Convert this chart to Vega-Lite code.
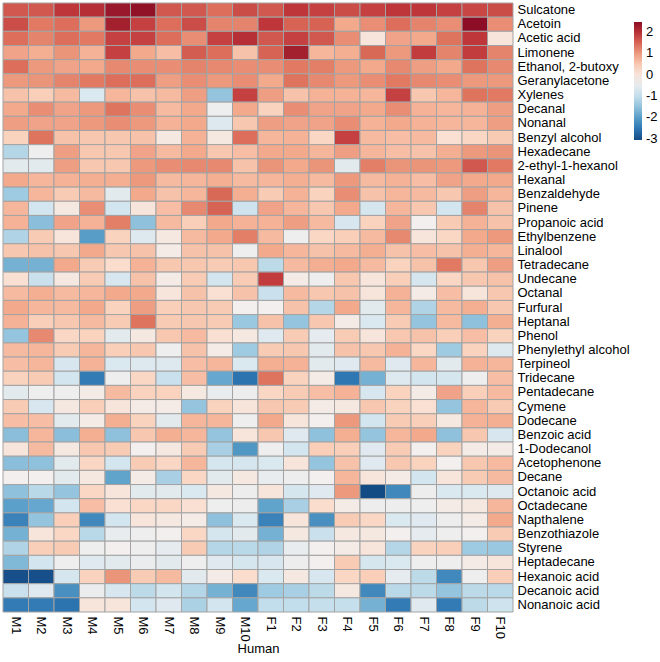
{
"$schema": "https://vega.github.io/schema/vega-lite/v6.json",
"width": 510, "height": 609,
"autosize": {"type": "none"},
"padding": {"left": 3, "top": 3, "right": 147, "bottom": 50},
"background": "white",
"config": {"view": {"stroke": null}, "font": "Liberation Sans"},
"datasets": {"cells": [
{"c":"Sulcatone","h":"M1","z":1.6},{"c":"Sulcatone","h":"M2","z":1.6},{"c":"Sulcatone","h":"M3","z":1.9},{"c":"Sulcatone","h":"M4","z":2.0},{"c":"Sulcatone","h":"M5","z":2.3},{"c":"Sulcatone","h":"M6","z":2.4},{"c":"Sulcatone","h":"M7","z":1.6},{"c":"Sulcatone","h":"M8","z":1.6},{"c":"Sulcatone","h":"M9","z":1.4},{"c":"Sulcatone","h":"M10","z":1.7},{"c":"Sulcatone","h":"F1","z":1.6},{"c":"Sulcatone","h":"F2","z":1.9},{"c":"Sulcatone","h":"F3","z":1.8},{"c":"Sulcatone","h":"F4","z":1.7},{"c":"Sulcatone","h":"F5","z":1.8},{"c":"Sulcatone","h":"F6","z":1.9},{"c":"Sulcatone","h":"F7","z":1.9},{"c":"Sulcatone","h":"F8","z":1.8},{"c":"Sulcatone","h":"F9","z":1.75},{"c":"Sulcatone","h":"F10","z":1.7},
{"c":"Acetoin","h":"M1","z":1.7},{"c":"Acetoin","h":"M2","z":1.3},{"c":"Acetoin","h":"M3","z":1.4},{"c":"Acetoin","h":"M4","z":1.0},{"c":"Acetoin","h":"M5","z":2.2},{"c":"Acetoin","h":"M6","z":1.8},{"c":"Acetoin","h":"M7","z":1.4},{"c":"Acetoin","h":"M8","z":1.7},{"c":"Acetoin","h":"M9","z":1.2},{"c":"Acetoin","h":"M10","z":1.2},{"c":"Acetoin","h":"F1","z":1.9},{"c":"Acetoin","h":"F2","z":1.5},{"c":"Acetoin","h":"F3","z":1.5},{"c":"Acetoin","h":"F4","z":0.85},{"c":"Acetoin","h":"F5","z":1.1},{"c":"Acetoin","h":"F6","z":1.4},{"c":"Acetoin","h":"F7","z":1.2},{"c":"Acetoin","h":"F8","z":1.1},{"c":"Acetoin","h":"F9","z":2.45},{"c":"Acetoin","h":"F10","z":1.1},
{"c":"Acetic acid","h":"M1","z":1.4},{"c":"Acetic acid","h":"M2","z":1.2},{"c":"Acetic acid","h":"M3","z":1.4},{"c":"Acetic acid","h":"M4","z":1.3},{"c":"Acetic acid","h":"M5","z":1.8},{"c":"Acetic acid","h":"M6","z":1.8},{"c":"Acetic acid","h":"M7","z":1.4},{"c":"Acetic acid","h":"M8","z":1.1},{"c":"Acetic acid","h":"M9","z":1.8},{"c":"Acetic acid","h":"M10","z":2.0},{"c":"Acetic acid","h":"F1","z":1.6},{"c":"Acetic acid","h":"F2","z":1.8},{"c":"Acetic acid","h":"F3","z":1.6},{"c":"Acetic acid","h":"F4","z":1.1},{"c":"Acetic acid","h":"F5","z":0.0},{"c":"Acetic acid","h":"F6","z":0.9},{"c":"Acetic acid","h":"F7","z":0.85},{"c":"Acetic acid","h":"F8","z":1.35},{"c":"Acetic acid","h":"F9","z":1.9},{"c":"Acetic acid","h":"F10","z":0.0},
{"c":"Limonene","h":"M1","z":0.9},{"c":"Limonene","h":"M2","z":0.8},{"c":"Limonene","h":"M3","z":1.05},{"c":"Limonene","h":"M4","z":0.75},{"c":"Limonene","h":"M5","z":1.8},{"c":"Limonene","h":"M6","z":0.85},{"c":"Limonene","h":"M7","z":0.6},{"c":"Limonene","h":"M8","z":1.55},{"c":"Limonene","h":"M9","z":1.4},{"c":"Limonene","h":"M10","z":0.55},{"c":"Limonene","h":"F1","z":1.5},{"c":"Limonene","h":"F2","z":2.2},{"c":"Limonene","h":"F3","z":0.7},{"c":"Limonene","h":"F4","z":0.8},{"c":"Limonene","h":"F5","z":1.45},{"c":"Limonene","h":"F6","z":1.0},{"c":"Limonene","h":"F7","z":1.85},{"c":"Limonene","h":"F8","z":1.2},{"c":"Limonene","h":"F9","z":1.85},{"c":"Limonene","h":"F10","z":1.2},
{"c":"Ethanol, 2-butoxy","h":"M1","z":1.4},{"c":"Ethanol, 2-butoxy","h":"M2","z":1.0},{"c":"Ethanol, 2-butoxy","h":"M3","z":0.9},{"c":"Ethanol, 2-butoxy","h":"M4","z":0.85},{"c":"Ethanol, 2-butoxy","h":"M5","z":1.15},{"c":"Ethanol, 2-butoxy","h":"M6","z":1.1},{"c":"Ethanol, 2-butoxy","h":"M7","z":1.1},{"c":"Ethanol, 2-butoxy","h":"M8","z":1.2},{"c":"Ethanol, 2-butoxy","h":"M9","z":1.15},{"c":"Ethanol, 2-butoxy","h":"M10","z":1.1},{"c":"Ethanol, 2-butoxy","h":"F1","z":1.1},{"c":"Ethanol, 2-butoxy","h":"F2","z":1.3},{"c":"Ethanol, 2-butoxy","h":"F3","z":1.25},{"c":"Ethanol, 2-butoxy","h":"F4","z":1.0},{"c":"Ethanol, 2-butoxy","h":"F5","z":0.85},{"c":"Ethanol, 2-butoxy","h":"F6","z":1.15},{"c":"Ethanol, 2-butoxy","h":"F7","z":0.95},{"c":"Ethanol, 2-butoxy","h":"F8","z":0.85},{"c":"Ethanol, 2-butoxy","h":"F9","z":1.35},{"c":"Ethanol, 2-butoxy","h":"F10","z":1.15},
{"c":"Geranylacetone","h":"M1","z":1.0},{"c":"Geranylacetone","h":"M2","z":1.05},{"c":"Geranylacetone","h":"M3","z":1.2},{"c":"Geranylacetone","h":"M4","z":1.3},{"c":"Geranylacetone","h":"M5","z":1.4},{"c":"Geranylacetone","h":"M6","z":1.4},{"c":"Geranylacetone","h":"M7","z":0.95},{"c":"Geranylacetone","h":"M8","z":1.1},{"c":"Geranylacetone","h":"M9","z":1.0},{"c":"Geranylacetone","h":"M10","z":1.1},{"c":"Geranylacetone","h":"F1","z":0.85},{"c":"Geranylacetone","h":"F2","z":1.35},{"c":"Geranylacetone","h":"F3","z":1.15},{"c":"Geranylacetone","h":"F4","z":1.0},{"c":"Geranylacetone","h":"F5","z":1.1},{"c":"Geranylacetone","h":"F6","z":1.3},{"c":"Geranylacetone","h":"F7","z":1.15},{"c":"Geranylacetone","h":"F8","z":1.1},{"c":"Geranylacetone","h":"F9","z":1.0},{"c":"Geranylacetone","h":"F10","z":1.0},
{"c":"Xylenes","h":"M1","z":0.55},{"c":"Xylenes","h":"M2","z":0.4},{"c":"Xylenes","h":"M3","z":0.65},{"c":"Xylenes","h":"M4","z":-0.71},{"c":"Xylenes","h":"M5","z":0.7},{"c":"Xylenes","h":"M6","z":0.55},{"c":"Xylenes","h":"M7","z":0.65},{"c":"Xylenes","h":"M8","z":0.95},{"c":"Xylenes","h":"M9","z":-1.47},{"c":"Xylenes","h":"M10","z":1.8},{"c":"Xylenes","h":"F1","z":0.95},{"c":"Xylenes","h":"F2","z":0.55},{"c":"Xylenes","h":"F3","z":0.75},{"c":"Xylenes","h":"F4","z":0.75},{"c":"Xylenes","h":"F5","z":0.7},{"c":"Xylenes","h":"F6","z":1.8},{"c":"Xylenes","h":"F7","z":0.5},{"c":"Xylenes","h":"F8","z":0.7},{"c":"Xylenes","h":"F9","z":1.35},{"c":"Xylenes","h":"F10","z":1.3},
{"c":"Decanal","h":"M1","z":0.85},{"c":"Decanal","h":"M2","z":1.1},{"c":"Decanal","h":"M3","z":0.9},{"c":"Decanal","h":"M4","z":1.0},{"c":"Decanal","h":"M5","z":1.35},{"c":"Decanal","h":"M6","z":1.1},{"c":"Decanal","h":"M7","z":0.65},{"c":"Decanal","h":"M8","z":0.85},{"c":"Decanal","h":"M9","z":-0.35},{"c":"Decanal","h":"M10","z":0.85},{"c":"Decanal","h":"F1","z":0.35},{"c":"Decanal","h":"F2","z":1.1},{"c":"Decanal","h":"F3","z":0.9},{"c":"Decanal","h":"F4","z":0.9},{"c":"Decanal","h":"F5","z":0.85},{"c":"Decanal","h":"F6","z":1.1},{"c":"Decanal","h":"F7","z":0.75},{"c":"Decanal","h":"F8","z":0.7},{"c":"Decanal","h":"F9","z":0.75},{"c":"Decanal","h":"F10","z":0.95},
{"c":"Nonanal","h":"M1","z":0.95},{"c":"Nonanal","h":"M2","z":0.9},{"c":"Nonanal","h":"M3","z":0.9},{"c":"Nonanal","h":"M4","z":1.0},{"c":"Nonanal","h":"M5","z":1.1},{"c":"Nonanal","h":"M6","z":1.0},{"c":"Nonanal","h":"M7","z":0.75},{"c":"Nonanal","h":"M8","z":0.85},{"c":"Nonanal","h":"M9","z":-0.66},{"c":"Nonanal","h":"M10","z":0.5},{"c":"Nonanal","h":"F1","z":0.95},{"c":"Nonanal","h":"F2","z":0.9},{"c":"Nonanal","h":"F3","z":0.9},{"c":"Nonanal","h":"F4","z":1.1},{"c":"Nonanal","h":"F5","z":0.75},{"c":"Nonanal","h":"F6","z":0.85},{"c":"Nonanal","h":"F7","z":0.75},{"c":"Nonanal","h":"F8","z":0.7},{"c":"Nonanal","h":"F9","z":0.7},{"c":"Nonanal","h":"F10","z":0.95},
{"c":"Benzyl alcohol","h":"M1","z":0.35},{"c":"Benzyl alcohol","h":"M2","z":1.35},{"c":"Benzyl alcohol","h":"M3","z":0.55},{"c":"Benzyl alcohol","h":"M4","z":0.5},{"c":"Benzyl alcohol","h":"M5","z":0.5},{"c":"Benzyl alcohol","h":"M6","z":0.55},{"c":"Benzyl alcohol","h":"M7","z":-0.1},{"c":"Benzyl alcohol","h":"M8","z":0.75},{"c":"Benzyl alcohol","h":"M9","z":-0.1},{"c":"Benzyl alcohol","h":"M10","z":1.4},{"c":"Benzyl alcohol","h":"F1","z":0.7},{"c":"Benzyl alcohol","h":"F2","z":0.75},{"c":"Benzyl alcohol","h":"F3","z":0.3},{"c":"Benzyl alcohol","h":"F4","z":1.8},{"c":"Benzyl alcohol","h":"F5","z":0.65},{"c":"Benzyl alcohol","h":"F6","z":0.6},{"c":"Benzyl alcohol","h":"F7","z":0.65},{"c":"Benzyl alcohol","h":"F8","z":0.1},{"c":"Benzyl alcohol","h":"F9","z":0.3},{"c":"Benzyl alcohol","h":"F10","z":0.45},
{"c":"Hexadecane","h":"M1","z":-1.16},{"c":"Hexadecane","h":"M2","z":-0.35},{"c":"Hexadecane","h":"M3","z":0.95},{"c":"Hexadecane","h":"M4","z":0.5},{"c":"Hexadecane","h":"M5","z":0.5},{"c":"Hexadecane","h":"M6","z":0.9},{"c":"Hexadecane","h":"M7","z":0.65},{"c":"Hexadecane","h":"M8","z":0.85},{"c":"Hexadecane","h":"M9","z":0.5},{"c":"Hexadecane","h":"M10","z":0.6},{"c":"Hexadecane","h":"F1","z":0.85},{"c":"Hexadecane","h":"F2","z":0.85},{"c":"Hexadecane","h":"F3","z":0.7},{"c":"Hexadecane","h":"F4","z":0.95},{"c":"Hexadecane","h":"F5","z":0.7},{"c":"Hexadecane","h":"F6","z":0.6},{"c":"Hexadecane","h":"F7","z":0.55},{"c":"Hexadecane","h":"F8","z":0.8},{"c":"Hexadecane","h":"F9","z":1.0},{"c":"Hexadecane","h":"F10","z":1.05},
{"c":"2-ethyl-1-hexanol","h":"M1","z":-0.57},{"c":"2-ethyl-1-hexanol","h":"M2","z":-0.57},{"c":"2-ethyl-1-hexanol","h":"M3","z":0.95},{"c":"2-ethyl-1-hexanol","h":"M4","z":0.5},{"c":"2-ethyl-1-hexanol","h":"M5","z":0.5},{"c":"2-ethyl-1-hexanol","h":"M6","z":1.0},{"c":"2-ethyl-1-hexanol","h":"M7","z":1.1},{"c":"2-ethyl-1-hexanol","h":"M8","z":1.15},{"c":"2-ethyl-1-hexanol","h":"M9","z":1.15},{"c":"2-ethyl-1-hexanol","h":"M10","z":0.55},{"c":"2-ethyl-1-hexanol","h":"F1","z":1.05},{"c":"2-ethyl-1-hexanol","h":"F2","z":0.85},{"c":"2-ethyl-1-hexanol","h":"F3","z":1.05},{"c":"2-ethyl-1-hexanol","h":"F4","z":-0.57},{"c":"2-ethyl-1-hexanol","h":"F5","z":1.25},{"c":"2-ethyl-1-hexanol","h":"F6","z":1.05},{"c":"2-ethyl-1-hexanol","h":"F7","z":1.05},{"c":"2-ethyl-1-hexanol","h":"F8","z":1.0},{"c":"2-ethyl-1-hexanol","h":"F9","z":1.6},{"c":"2-ethyl-1-hexanol","h":"F10","z":1.3},
{"c":"Hexanal","h":"M1","z":0.85},{"c":"Hexanal","h":"M2","z":0.7},{"c":"Hexanal","h":"M3","z":0.75},{"c":"Hexanal","h":"M4","z":0.8},{"c":"Hexanal","h":"M5","z":0.8},{"c":"Hexanal","h":"M6","z":1.0},{"c":"Hexanal","h":"M7","z":0.65},{"c":"Hexanal","h":"M8","z":0.7},{"c":"Hexanal","h":"M9","z":0.8},{"c":"Hexanal","h":"M10","z":0.65},{"c":"Hexanal","h":"F1","z":0.7},{"c":"Hexanal","h":"F2","z":0.8},{"c":"Hexanal","h":"F3","z":0.65},{"c":"Hexanal","h":"F4","z":1.0},{"c":"Hexanal","h":"F5","z":0.65},{"c":"Hexanal","h":"F6","z":0.75},{"c":"Hexanal","h":"F7","z":0.6},{"c":"Hexanal","h":"F8","z":0.9},{"c":"Hexanal","h":"F9","z":0.85},{"c":"Hexanal","h":"F10","z":0.85},
{"c":"Benzaldehyde","h":"M1","z":-1.38},{"c":"Benzaldehyde","h":"M2","z":0.7},{"c":"Benzaldehyde","h":"M3","z":0.45},{"c":"Benzaldehyde","h":"M4","z":0.65},{"c":"Benzaldehyde","h":"M5","z":-0.57},{"c":"Benzaldehyde","h":"M6","z":0.85},{"c":"Benzaldehyde","h":"M7","z":0.55},{"c":"Benzaldehyde","h":"M8","z":0.7},{"c":"Benzaldehyde","h":"M9","z":1.45},{"c":"Benzaldehyde","h":"M10","z":0.8},{"c":"Benzaldehyde","h":"F1","z":0.45},{"c":"Benzaldehyde","h":"F2","z":0.75},{"c":"Benzaldehyde","h":"F3","z":0.35},{"c":"Benzaldehyde","h":"F4","z":1.1},{"c":"Benzaldehyde","h":"F5","z":0.55},{"c":"Benzaldehyde","h":"F6","z":0.7},{"c":"Benzaldehyde","h":"F7","z":0.65},{"c":"Benzaldehyde","h":"F8","z":0.5},{"c":"Benzaldehyde","h":"F9","z":0.95},{"c":"Benzaldehyde","h":"F10","z":0.7},
{"c":"Pinene","h":"M1","z":0.7},{"c":"Pinene","h":"M2","z":-0.84},{"c":"Pinene","h":"M3","z":-0.1},{"c":"Pinene","h":"M4","z":1.1},{"c":"Pinene","h":"M5","z":-0.84},{"c":"Pinene","h":"M6","z":0.0},{"c":"Pinene","h":"M7","z":0.6},{"c":"Pinene","h":"M8","z":1.15},{"c":"Pinene","h":"M9","z":1.5},{"c":"Pinene","h":"M10","z":-0.89},{"c":"Pinene","h":"F1","z":0.9},{"c":"Pinene","h":"F2","z":0.7},{"c":"Pinene","h":"F3","z":0.5},{"c":"Pinene","h":"F4","z":0.85},{"c":"Pinene","h":"F5","z":-0.8},{"c":"Pinene","h":"F6","z":0.7},{"c":"Pinene","h":"F7","z":0.5},{"c":"Pinene","h":"F8","z":-0.84},{"c":"Pinene","h":"F9","z":1.2},{"c":"Pinene","h":"F10","z":0.55},
{"c":"Propanoic acid","h":"M1","z":0.75},{"c":"Propanoic acid","h":"M2","z":-1.56},{"c":"Propanoic acid","h":"M3","z":0.9},{"c":"Propanoic acid","h":"M4","z":0.75},{"c":"Propanoic acid","h":"M5","z":1.25},{"c":"Propanoic acid","h":"M6","z":-1.52},{"c":"Propanoic acid","h":"M7","z":0.65},{"c":"Propanoic acid","h":"M8","z":0.4},{"c":"Propanoic acid","h":"M9","z":0.85},{"c":"Propanoic acid","h":"M10","z":0.75},{"c":"Propanoic acid","h":"F1","z":0.75},{"c":"Propanoic acid","h":"F2","z":0.95},{"c":"Propanoic acid","h":"F3","z":0.65},{"c":"Propanoic acid","h":"F4","z":-0.75},{"c":"Propanoic acid","h":"F5","z":0.35},{"c":"Propanoic acid","h":"F6","z":0.9},{"c":"Propanoic acid","h":"F7","z":-0.3},{"c":"Propanoic acid","h":"F8","z":0.45},{"c":"Propanoic acid","h":"F9","z":0.75},{"c":"Propanoic acid","h":"F10","z":0.55},
{"c":"Ethylbenzene","h":"M1","z":-1.2},{"c":"Ethylbenzene","h":"M2","z":0.45},{"c":"Ethylbenzene","h":"M3","z":0.0},{"c":"Ethylbenzene","h":"M4","z":-2.01},{"c":"Ethylbenzene","h":"M5","z":0.35},{"c":"Ethylbenzene","h":"M6","z":-0.66},{"c":"Ethylbenzene","h":"M7","z":-0.1},{"c":"Ethylbenzene","h":"M8","z":0.65},{"c":"Ethylbenzene","h":"M9","z":0.85},{"c":"Ethylbenzene","h":"M10","z":1.25},{"c":"Ethylbenzene","h":"F1","z":0.65},{"c":"Ethylbenzene","h":"F2","z":-0.35},{"c":"Ethylbenzene","h":"F3","z":0.3},{"c":"Ethylbenzene","h":"F4","z":0.4},{"c":"Ethylbenzene","h":"F5","z":0.65},{"c":"Ethylbenzene","h":"F6","z":1.15},{"c":"Ethylbenzene","h":"F7","z":0.0},{"c":"Ethylbenzene","h":"F8","z":0.3},{"c":"Ethylbenzene","h":"F9","z":0.85},{"c":"Ethylbenzene","h":"F10","z":1.0},
{"c":"Linalool","h":"M1","z":0.5},{"c":"Linalool","h":"M2","z":0.55},{"c":"Linalool","h":"M3","z":0.5},{"c":"Linalool","h":"M4","z":0.85},{"c":"Linalool","h":"M5","z":0.5},{"c":"Linalool","h":"M6","z":0.55},{"c":"Linalool","h":"M7","z":-0.2},{"c":"Linalool","h":"M8","z":0.55},{"c":"Linalool","h":"M9","z":0.55},{"c":"Linalool","h":"M10","z":-0.35},{"c":"Linalool","h":"F1","z":0.85},{"c":"Linalool","h":"F2","z":0.7},{"c":"Linalool","h":"F3","z":0.55},{"c":"Linalool","h":"F4","z":0.65},{"c":"Linalool","h":"F5","z":0.8},{"c":"Linalool","h":"F6","z":0.55},{"c":"Linalool","h":"F7","z":0.6},{"c":"Linalool","h":"F8","z":0.55},{"c":"Linalool","h":"F9","z":0.8},{"c":"Linalool","h":"F10","z":0.7},
{"c":"Tetradecane","h":"M1","z":-1.74},{"c":"Tetradecane","h":"M2","z":-1.74},{"c":"Tetradecane","h":"M3","z":0.85},{"c":"Tetradecane","h":"M4","z":0.45},{"c":"Tetradecane","h":"M5","z":0.2},{"c":"Tetradecane","h":"M6","z":0.75},{"c":"Tetradecane","h":"M7","z":0.5},{"c":"Tetradecane","h":"M8","z":0.5},{"c":"Tetradecane","h":"M9","z":0.45},{"c":"Tetradecane","h":"M10","z":0.5},{"c":"Tetradecane","h":"F1","z":-1.07},{"c":"Tetradecane","h":"F2","z":0.65},{"c":"Tetradecane","h":"F3","z":0.8},{"c":"Tetradecane","h":"F4","z":0.85},{"c":"Tetradecane","h":"F5","z":0.65},{"c":"Tetradecane","h":"F6","z":0.35},{"c":"Tetradecane","h":"F7","z":0.55},{"c":"Tetradecane","h":"F8","z":1.3},{"c":"Tetradecane","h":"F9","z":0.5},{"c":"Tetradecane","h":"F10","z":0.95},
{"c":"Undecane","h":"M1","z":0.1},{"c":"Undecane","h":"M2","z":-0.93},{"c":"Undecane","h":"M3","z":-0.1},{"c":"Undecane","h":"M4","z":0.45},{"c":"Undecane","h":"M5","z":-0.75},{"c":"Undecane","h":"M6","z":0.55},{"c":"Undecane","h":"M7","z":-0.2},{"c":"Undecane","h":"M8","z":0.45},{"c":"Undecane","h":"M9","z":-0.84},{"c":"Undecane","h":"M10","z":0.45},{"c":"Undecane","h":"F1","z":1.85},{"c":"Undecane","h":"F2","z":-0.2},{"c":"Undecane","h":"F3","z":-0.35},{"c":"Undecane","h":"F4","z":0.5},{"c":"Undecane","h":"F5","z":0.0},{"c":"Undecane","h":"F6","z":0.4},{"c":"Undecane","h":"F7","z":-0.8},{"c":"Undecane","h":"F8","z":0.3},{"c":"Undecane","h":"F9","z":0.5},{"c":"Undecane","h":"F10","z":0.55},
{"c":"Octanal","h":"M1","z":0.65},{"c":"Octanal","h":"M2","z":0.8},{"c":"Octanal","h":"M3","z":0.65},{"c":"Octanal","h":"M4","z":0.7},{"c":"Octanal","h":"M5","z":0.85},{"c":"Octanal","h":"M6","z":0.85},{"c":"Octanal","h":"M7","z":0.0},{"c":"Octanal","h":"M8","z":0.55},{"c":"Octanal","h":"M9","z":0.1},{"c":"Octanal","h":"M10","z":0.55},{"c":"Octanal","h":"F1","z":-0.93},{"c":"Octanal","h":"F2","z":0.65},{"c":"Octanal","h":"F3","z":0.5},{"c":"Octanal","h":"F4","z":0.55},{"c":"Octanal","h":"F5","z":0.0},{"c":"Octanal","h":"F6","z":0.75},{"c":"Octanal","h":"F7","z":-0.2},{"c":"Octanal","h":"F8","z":0.6},{"c":"Octanal","h":"F9","z":0.0},{"c":"Octanal","h":"F10","z":0.5},
{"c":"Furfural","h":"M1","z":0.85},{"c":"Furfural","h":"M2","z":0.7},{"c":"Furfural","h":"M3","z":0.65},{"c":"Furfural","h":"M4","z":0.85},{"c":"Furfural","h":"M5","z":0.35},{"c":"Furfural","h":"M6","z":0.95},{"c":"Furfural","h":"M7","z":0.4},{"c":"Furfural","h":"M8","z":0.5},{"c":"Furfural","h":"M9","z":0.45},{"c":"Furfural","h":"M10","z":-0.3},{"c":"Furfural","h":"F1","z":-0.3},{"c":"Furfural","h":"F2","z":0.55},{"c":"Furfural","h":"F3","z":-1.16},{"c":"Furfural","h":"F4","z":0.85},{"c":"Furfural","h":"F5","z":-0.57},{"c":"Furfural","h":"F6","z":0.7},{"c":"Furfural","h":"F7","z":-1.2},{"c":"Furfural","h":"F8","z":0.65},{"c":"Furfural","h":"F9","z":0.8},{"c":"Furfural","h":"F10","z":0.5},
{"c":"Heptanal","h":"M1","z":0.75},{"c":"Heptanal","h":"M2","z":0.4},{"c":"Heptanal","h":"M3","z":0.5},{"c":"Heptanal","h":"M4","z":0.65},{"c":"Heptanal","h":"M5","z":0.45},{"c":"Heptanal","h":"M6","z":1.35},{"c":"Heptanal","h":"M7","z":0.45},{"c":"Heptanal","h":"M8","z":0.5},{"c":"Heptanal","h":"M9","z":0.45},{"c":"Heptanal","h":"M10","z":-1.43},{"c":"Heptanal","h":"F1","z":0.55},{"c":"Heptanal","h":"F2","z":-1.47},{"c":"Heptanal","h":"F3","z":0.5},{"c":"Heptanal","h":"F4","z":-0.2},{"c":"Heptanal","h":"F5","z":-0.71},{"c":"Heptanal","h":"F6","z":0.45},{"c":"Heptanal","h":"F7","z":-1.47},{"c":"Heptanal","h":"F8","z":0.65},{"c":"Heptanal","h":"F9","z":-1.52},{"c":"Heptanal","h":"F10","z":0.8},
{"c":"Phenol","h":"M1","z":-1.47},{"c":"Phenol","h":"M2","z":1.15},{"c":"Phenol","h":"M3","z":0.3},{"c":"Phenol","h":"M4","z":0.35},{"c":"Phenol","h":"M5","z":-0.57},{"c":"Phenol","h":"M6","z":-0.1},{"c":"Phenol","h":"M7","z":0.5},{"c":"Phenol","h":"M8","z":0.65},{"c":"Phenol","h":"M9","z":0.1},{"c":"Phenol","h":"M10","z":-0.1},{"c":"Phenol","h":"F1","z":-0.62},{"c":"Phenol","h":"F2","z":0.45},{"c":"Phenol","h":"F3","z":-0.53},{"c":"Phenol","h":"F4","z":0.45},{"c":"Phenol","h":"F5","z":0.0},{"c":"Phenol","h":"F6","z":0.5},{"c":"Phenol","h":"F7","z":0.55},{"c":"Phenol","h":"F8","z":0.4},{"c":"Phenol","h":"F9","z":0.6},{"c":"Phenol","h":"F10","z":0.35},
{"c":"Phenylethyl alcohol","h":"M1","z":0.65},{"c":"Phenylethyl alcohol","h":"M2","z":0.7},{"c":"Phenylethyl alcohol","h":"M3","z":0.45},{"c":"Phenylethyl alcohol","h":"M4","z":0.7},{"c":"Phenylethyl alcohol","h":"M5","z":0.4},{"c":"Phenylethyl alcohol","h":"M6","z":0.5},{"c":"Phenylethyl alcohol","h":"M7","z":-0.35},{"c":"Phenylethyl alcohol","h":"M8","z":0.55},{"c":"Phenylethyl alcohol","h":"M9","z":-0.2},{"c":"Phenylethyl alcohol","h":"M10","z":-1.38},{"c":"Phenylethyl alcohol","h":"F1","z":0.45},{"c":"Phenylethyl alcohol","h":"F2","z":0.5},{"c":"Phenylethyl alcohol","h":"F3","z":-0.57},{"c":"Phenylethyl alcohol","h":"F4","z":0.55},{"c":"Phenylethyl alcohol","h":"F5","z":0.5},{"c":"Phenylethyl alcohol","h":"F6","z":0.75},{"c":"Phenylethyl alcohol","h":"F7","z":0.3},{"c":"Phenylethyl alcohol","h":"F8","z":-1.38},{"c":"Phenylethyl alcohol","h":"F9","z":0.35},{"c":"Phenylethyl alcohol","h":"F10","z":-0.66},
{"c":"Terpineol","h":"M1","z":0.6},{"c":"Terpineol","h":"M2","z":0.7},{"c":"Terpineol","h":"M3","z":-0.75},{"c":"Terpineol","h":"M4","z":0.75},{"c":"Terpineol","h":"M5","z":-0.71},{"c":"Terpineol","h":"M6","z":-0.66},{"c":"Terpineol","h":"M7","z":-0.66},{"c":"Terpineol","h":"M8","z":0.6},{"c":"Terpineol","h":"M9","z":0.7},{"c":"Terpineol","h":"M10","z":-0.71},{"c":"Terpineol","h":"F1","z":0.8},{"c":"Terpineol","h":"F2","z":0.75},{"c":"Terpineol","h":"F3","z":-0.57},{"c":"Terpineol","h":"F4","z":-0.62},{"c":"Terpineol","h":"F5","z":0.65},{"c":"Terpineol","h":"F6","z":-0.62},{"c":"Terpineol","h":"F7","z":0.7},{"c":"Terpineol","h":"F8","z":-0.57},{"c":"Terpineol","h":"F9","z":0.75},{"c":"Terpineol","h":"F10","z":0.7},
{"c":"Tridecane","h":"M1","z":0.35},{"c":"Tridecane","h":"M2","z":0.45},{"c":"Tridecane","h":"M3","z":-0.84},{"c":"Tridecane","h":"M4","z":-2.46},{"c":"Tridecane","h":"M5","z":-0.35},{"c":"Tridecane","h":"M6","z":0.3},{"c":"Tridecane","h":"M7","z":-0.93},{"c":"Tridecane","h":"M8","z":0.6},{"c":"Tridecane","h":"M9","z":-1.88},{"c":"Tridecane","h":"M10","z":-2.55},{"c":"Tridecane","h":"F1","z":1.35},{"c":"Tridecane","h":"F2","z":0.35},{"c":"Tridecane","h":"F3","z":-0.2},{"c":"Tridecane","h":"F4","z":-2.51},{"c":"Tridecane","h":"F5","z":-1.74},{"c":"Tridecane","h":"F6","z":-0.66},{"c":"Tridecane","h":"F7","z":-0.84},{"c":"Tridecane","h":"F8","z":-0.8},{"c":"Tridecane","h":"F9","z":-0.35},{"c":"Tridecane","h":"F10","z":0.6},
{"c":"Pentadecane","h":"M1","z":-0.57},{"c":"Pentadecane","h":"M2","z":-0.35},{"c":"Pentadecane","h":"M3","z":-0.35},{"c":"Pentadecane","h":"M4","z":-0.2},{"c":"Pentadecane","h":"M5","z":0.65},{"c":"Pentadecane","h":"M6","z":0.35},{"c":"Pentadecane","h":"M7","z":0.35},{"c":"Pentadecane","h":"M8","z":-0.1},{"c":"Pentadecane","h":"M9","z":-0.48},{"c":"Pentadecane","h":"M10","z":-0.39},{"c":"Pentadecane","h":"F1","z":0.3},{"c":"Pentadecane","h":"F2","z":0.45},{"c":"Pentadecane","h":"F3","z":0.6},{"c":"Pentadecane","h":"F4","z":0.75},{"c":"Pentadecane","h":"F5","z":-0.75},{"c":"Pentadecane","h":"F6","z":0.35},{"c":"Pentadecane","h":"F7","z":-0.2},{"c":"Pentadecane","h":"F8","z":0.9},{"c":"Pentadecane","h":"F9","z":0.4},{"c":"Pentadecane","h":"F10","z":0.65},
{"c":"Cymene","h":"M1","z":0.45},{"c":"Cymene","h":"M2","z":-0.75},{"c":"Cymene","h":"M3","z":-0.1},{"c":"Cymene","h":"M4","z":0.4},{"c":"Cymene","h":"M5","z":0.0},{"c":"Cymene","h":"M6","z":-0.2},{"c":"Cymene","h":"M7","z":-0.2},{"c":"Cymene","h":"M8","z":-1.47},{"c":"Cymene","h":"M9","z":0.35},{"c":"Cymene","h":"M10","z":0.0},{"c":"Cymene","h":"F1","z":0.5},{"c":"Cymene","h":"F2","z":0.45},{"c":"Cymene","h":"F3","z":-0.2},{"c":"Cymene","h":"F4","z":-0.1},{"c":"Cymene","h":"F5","z":0.5},{"c":"Cymene","h":"F6","z":0.35},{"c":"Cymene","h":"F7","z":0.1},{"c":"Cymene","h":"F8","z":-1.47},{"c":"Cymene","h":"F9","z":0.7},{"c":"Cymene","h":"F10","z":0.45},
{"c":"Dodecane","h":"M1","z":0.6},{"c":"Dodecane","h":"M2","z":0.6},{"c":"Dodecane","h":"M3","z":-0.57},{"c":"Dodecane","h":"M4","z":-0.2},{"c":"Dodecane","h":"M5","z":0.8},{"c":"Dodecane","h":"M6","z":0.35},{"c":"Dodecane","h":"M7","z":-0.57},{"c":"Dodecane","h":"M8","z":0.7},{"c":"Dodecane","h":"M9","z":0.7},{"c":"Dodecane","h":"M10","z":-0.35},{"c":"Dodecane","h":"F1","z":0.85},{"c":"Dodecane","h":"F2","z":0.0},{"c":"Dodecane","h":"F3","z":-0.3},{"c":"Dodecane","h":"F4","z":1.0},{"c":"Dodecane","h":"F5","z":-0.84},{"c":"Dodecane","h":"F6","z":0.45},{"c":"Dodecane","h":"F7","z":0.4},{"c":"Dodecane","h":"F8","z":-0.1},{"c":"Dodecane","h":"F9","z":0.75},{"c":"Dodecane","h":"F10","z":0.8},
{"c":"Benzoic acid","h":"M1","z":-1.56},{"c":"Benzoic acid","h":"M2","z":0.7},{"c":"Benzoic acid","h":"M3","z":-1.56},{"c":"Benzoic acid","h":"M4","z":0.8},{"c":"Benzoic acid","h":"M5","z":-1.52},{"c":"Benzoic acid","h":"M6","z":0.5},{"c":"Benzoic acid","h":"M7","z":0.8},{"c":"Benzoic acid","h":"M8","z":0.7},{"c":"Benzoic acid","h":"M9","z":-1.47},{"c":"Benzoic acid","h":"M10","z":0.0},{"c":"Benzoic acid","h":"F1","z":0.5},{"c":"Benzoic acid","h":"F2","z":-0.62},{"c":"Benzoic acid","h":"F3","z":-1.52},{"c":"Benzoic acid","h":"F4","z":0.8},{"c":"Benzoic acid","h":"F5","z":-1.47},{"c":"Benzoic acid","h":"F6","z":0.7},{"c":"Benzoic acid","h":"F7","z":0.85},{"c":"Benzoic acid","h":"F8","z":-1.52},{"c":"Benzoic acid","h":"F9","z":0.5},{"c":"Benzoic acid","h":"F10","z":-0.75},
{"c":"1-Dodecanol","h":"M1","z":0.0},{"c":"1-Dodecanol","h":"M2","z":0.65},{"c":"1-Dodecanol","h":"M3","z":-0.1},{"c":"1-Dodecanol","h":"M4","z":0.5},{"c":"1-Dodecanol","h":"M5","z":0.45},{"c":"1-Dodecanol","h":"M6","z":-0.3},{"c":"1-Dodecanol","h":"M7","z":-0.1},{"c":"1-Dodecanol","h":"M8","z":0.45},{"c":"1-Dodecanol","h":"M9","z":-1.29},{"c":"1-Dodecanol","h":"M10","z":-2.1},{"c":"1-Dodecanol","h":"F1","z":-0.35},{"c":"1-Dodecanol","h":"F2","z":-0.84},{"c":"1-Dodecanol","h":"F3","z":0.4},{"c":"1-Dodecanol","h":"F4","z":0.4},{"c":"1-Dodecanol","h":"F5","z":-0.62},{"c":"1-Dodecanol","h":"F6","z":0.45},{"c":"1-Dodecanol","h":"F7","z":-0.3},{"c":"1-Dodecanol","h":"F8","z":0.35},{"c":"1-Dodecanol","h":"F9","z":-0.2},{"c":"1-Dodecanol","h":"F10","z":-0.2},
{"c":"Acetophenone","h":"M1","z":-1.56},{"c":"Acetophenone","h":"M2","z":-1.52},{"c":"Acetophenone","h":"M3","z":-0.57},{"c":"Acetophenone","h":"M4","z":0.3},{"c":"Acetophenone","h":"M5","z":-0.84},{"c":"Acetophenone","h":"M6","z":0.45},{"c":"Acetophenone","h":"M7","z":0.3},{"c":"Acetophenone","h":"M8","z":0.7},{"c":"Acetophenone","h":"M9","z":-0.8},{"c":"Acetophenone","h":"M10","z":-0.8},{"c":"Acetophenone","h":"F1","z":-0.71},{"c":"Acetophenone","h":"F2","z":0.0},{"c":"Acetophenone","h":"F3","z":-1.47},{"c":"Acetophenone","h":"F4","z":0.55},{"c":"Acetophenone","h":"F5","z":-0.62},{"c":"Acetophenone","h":"F6","z":0.5},{"c":"Acetophenone","h":"F7","z":0.35},{"c":"Acetophenone","h":"F8","z":-0.3},{"c":"Acetophenone","h":"F9","z":0.5},{"c":"Acetophenone","h":"F10","z":0.65},
{"c":"Decane","h":"M1","z":-0.3},{"c":"Decane","h":"M2","z":-0.3},{"c":"Decane","h":"M3","z":-0.57},{"c":"Decane","h":"M4","z":-0.1},{"c":"Decane","h":"M5","z":-1.92},{"c":"Decane","h":"M6","z":-0.2},{"c":"Decane","h":"M7","z":-1.29},{"c":"Decane","h":"M8","z":0.3},{"c":"Decane","h":"M9","z":-0.57},{"c":"Decane","h":"M10","z":-0.1},{"c":"Decane","h":"F1","z":-0.48},{"c":"Decane","h":"F2","z":-0.39},{"c":"Decane","h":"F3","z":-0.3},{"c":"Decane","h":"F4","z":0.7},{"c":"Decane","h":"F5","z":0.0},{"c":"Decane","h":"F6","z":-0.2},{"c":"Decane","h":"F7","z":-0.84},{"c":"Decane","h":"F8","z":0.0},{"c":"Decane","h":"F9","z":0.45},{"c":"Decane","h":"F10","z":0.65},
{"c":"Octanoic acid","h":"M1","z":-1.52},{"c":"Octanoic acid","h":"M2","z":-1.11},{"c":"Octanoic acid","h":"M3","z":-1.47},{"c":"Octanoic acid","h":"M4","z":0.3},{"c":"Octanoic acid","h":"M5","z":0.0},{"c":"Octanoic acid","h":"M6","z":-0.57},{"c":"Octanoic acid","h":"M7","z":-0.57},{"c":"Octanoic acid","h":"M8","z":-0.71},{"c":"Octanoic acid","h":"M9","z":-0.1},{"c":"Octanoic acid","h":"M10","z":-0.39},{"c":"Octanoic acid","h":"F1","z":0.0},{"c":"Octanoic acid","h":"F2","z":-0.8},{"c":"Octanoic acid","h":"F3","z":-0.62},{"c":"Octanoic acid","h":"F4","z":1.0},{"c":"Octanoic acid","h":"F5","z":-3.05},{"c":"Octanoic acid","h":"F6","z":-2.28},{"c":"Octanoic acid","h":"F7","z":-0.39},{"c":"Octanoic acid","h":"F8","z":-0.71},{"c":"Octanoic acid","h":"F9","z":-0.71},{"c":"Octanoic acid","h":"F10","z":-0.66},
{"c":"Octadecane","h":"M1","z":-1.97},{"c":"Octadecane","h":"M2","z":-1.88},{"c":"Octadecane","h":"M3","z":-0.84},{"c":"Octadecane","h":"M4","z":0.6},{"c":"Octadecane","h":"M5","z":0.1},{"c":"Octadecane","h":"M6","z":0.3},{"c":"Octadecane","h":"M7","z":0.3},{"c":"Octadecane","h":"M8","z":0.1},{"c":"Octadecane","h":"M9","z":-0.35},{"c":"Octadecane","h":"M10","z":-0.39},{"c":"Octadecane","h":"F1","z":-1.92},{"c":"Octadecane","h":"F2","z":-1.29},{"c":"Octadecane","h":"F3","z":0.2},{"c":"Octadecane","h":"F4","z":-0.2},{"c":"Octadecane","h":"F5","z":-0.39},{"c":"Octadecane","h":"F6","z":-0.39},{"c":"Octadecane","h":"F7","z":-0.35},{"c":"Octadecane","h":"F8","z":-0.2},{"c":"Octadecane","h":"F9","z":-0.1},{"c":"Octadecane","h":"F10","z":0.7},
{"c":"Napthalene","h":"M1","z":-2.37},{"c":"Napthalene","h":"M2","z":-1.47},{"c":"Napthalene","h":"M3","z":0.4},{"c":"Napthalene","h":"M4","z":-2.28},{"c":"Napthalene","h":"M5","z":-0.84},{"c":"Napthalene","h":"M6","z":0.0},{"c":"Napthalene","h":"M7","z":-0.1},{"c":"Napthalene","h":"M8","z":-0.2},{"c":"Napthalene","h":"M9","z":-1.52},{"c":"Napthalene","h":"M10","z":-0.71},{"c":"Napthalene","h":"F1","z":-2.37},{"c":"Napthalene","h":"F2","z":0.0},{"c":"Napthalene","h":"F3","z":-2.19},{"c":"Napthalene","h":"F4","z":0.45},{"c":"Napthalene","h":"F5","z":0.3},{"c":"Napthalene","h":"F6","z":-0.71},{"c":"Napthalene","h":"F7","z":-0.62},{"c":"Napthalene","h":"F8","z":-0.39},{"c":"Napthalene","h":"F9","z":-0.2},{"c":"Napthalene","h":"F10","z":0.85},
{"c":"Benzothiazole","h":"M1","z":-1.74},{"c":"Benzothiazole","h":"M2","z":0.0},{"c":"Benzothiazole","h":"M3","z":0.3},{"c":"Benzothiazole","h":"M4","z":-1.11},{"c":"Benzothiazole","h":"M5","z":-0.48},{"c":"Benzothiazole","h":"M6","z":-0.35},{"c":"Benzothiazole","h":"M7","z":-0.3},{"c":"Benzothiazole","h":"M8","z":0.3},{"c":"Benzothiazole","h":"M9","z":-0.8},{"c":"Benzothiazole","h":"M10","z":-0.57},{"c":"Benzothiazole","h":"F1","z":-1.74},{"c":"Benzothiazole","h":"F2","z":-0.1},{"c":"Benzothiazole","h":"F3","z":-0.93},{"c":"Benzothiazole","h":"F4","z":-0.1},{"c":"Benzothiazole","h":"F5","z":-0.1},{"c":"Benzothiazole","h":"F6","z":-0.3},{"c":"Benzothiazole","h":"F7","z":-0.53},{"c":"Benzothiazole","h":"F8","z":-0.35},{"c":"Benzothiazole","h":"F9","z":-0.3},{"c":"Benzothiazole","h":"F10","z":0.45},
{"c":"Styrene","h":"M1","z":-1.2},{"c":"Styrene","h":"M2","z":0.4},{"c":"Styrene","h":"M3","z":0.45},{"c":"Styrene","h":"M4","z":-0.35},{"c":"Styrene","h":"M5","z":-0.3},{"c":"Styrene","h":"M6","z":-0.35},{"c":"Styrene","h":"M7","z":-0.53},{"c":"Styrene","h":"M8","z":0.45},{"c":"Styrene","h":"M9","z":-1.16},{"c":"Styrene","h":"M10","z":-1.11},{"c":"Styrene","h":"F1","z":-1.2},{"c":"Styrene","h":"F2","z":-0.48},{"c":"Styrene","h":"F3","z":-0.3},{"c":"Styrene","h":"F4","z":-0.2},{"c":"Styrene","h":"F5","z":0.0},{"c":"Styrene","h":"F6","z":-1.16},{"c":"Styrene","h":"F7","z":0.35},{"c":"Styrene","h":"F8","z":0.4},{"c":"Styrene","h":"F9","z":-1.38},{"c":"Styrene","h":"F10","z":-1.43},
{"c":"Heptadecane","h":"M1","z":-1.65},{"c":"Heptadecane","h":"M2","z":-0.84},{"c":"Heptadecane","h":"M3","z":-0.35},{"c":"Heptadecane","h":"M4","z":-0.62},{"c":"Heptadecane","h":"M5","z":-0.57},{"c":"Heptadecane","h":"M6","z":-0.44},{"c":"Heptadecane","h":"M7","z":-0.57},{"c":"Heptadecane","h":"M8","z":-0.35},{"c":"Heptadecane","h":"M9","z":-0.62},{"c":"Heptadecane","h":"M10","z":-0.8},{"c":"Heptadecane","h":"F1","z":-0.75},{"c":"Heptadecane","h":"F2","z":-0.39},{"c":"Heptadecane","h":"F3","z":-0.3},{"c":"Heptadecane","h":"F4","z":0.45},{"c":"Heptadecane","h":"F5","z":-0.8},{"c":"Heptadecane","h":"F6","z":-0.71},{"c":"Heptadecane","h":"F7","z":-0.35},{"c":"Heptadecane","h":"F8","z":-0.35},{"c":"Heptadecane","h":"F9","z":-0.2},{"c":"Heptadecane","h":"F10","z":0.0},
{"c":"Hexanoic acid","h":"M1","z":-3.0},{"c":"Hexanoic acid","h":"M2","z":-3.0},{"c":"Hexanoic acid","h":"M3","z":-0.8},{"c":"Hexanoic acid","h":"M4","z":0.35},{"c":"Hexanoic acid","h":"M5","z":1.05},{"c":"Hexanoic acid","h":"M6","z":0.45},{"c":"Hexanoic acid","h":"M7","z":0.65},{"c":"Hexanoic acid","h":"M8","z":-0.57},{"c":"Hexanoic acid","h":"M9","z":-0.2},{"c":"Hexanoic acid","h":"M10","z":0.2},{"c":"Hexanoic acid","h":"F1","z":-0.71},{"c":"Hexanoic acid","h":"F2","z":-0.1},{"c":"Hexanoic acid","h":"F3","z":-0.75},{"c":"Hexanoic acid","h":"F4","z":0.3},{"c":"Hexanoic acid","h":"F5","z":0.4},{"c":"Hexanoic acid","h":"F6","z":-0.53},{"c":"Hexanoic acid","h":"F7","z":-1.07},{"c":"Hexanoic acid","h":"F8","z":-2.28},{"c":"Hexanoic acid","h":"F9","z":-0.35},{"c":"Hexanoic acid","h":"F10","z":0.4},
{"c":"Decanoic acid","h":"M1","z":-0.93},{"c":"Decanoic acid","h":"M2","z":-0.62},{"c":"Decanoic acid","h":"M3","z":-2.19},{"c":"Decanoic acid","h":"M4","z":-0.44},{"c":"Decanoic acid","h":"M5","z":-0.75},{"c":"Decanoic acid","h":"M6","z":-1.07},{"c":"Decanoic acid","h":"M7","z":-0.84},{"c":"Decanoic acid","h":"M8","z":-1.16},{"c":"Decanoic acid","h":"M9","z":-1.74},{"c":"Decanoic acid","h":"M10","z":-2.28},{"c":"Decanoic acid","h":"F1","z":-1.38},{"c":"Decanoic acid","h":"F2","z":-1.29},{"c":"Decanoic acid","h":"F3","z":-1.07},{"c":"Decanoic acid","h":"F4","z":-0.1},{"c":"Decanoic acid","h":"F5","z":-2.28},{"c":"Decanoic acid","h":"F6","z":-1.11},{"c":"Decanoic acid","h":"F7","z":-1.07},{"c":"Decanoic acid","h":"F8","z":-1.47},{"c":"Decanoic acid","h":"F9","z":-1.07},{"c":"Decanoic acid","h":"F10","z":-1.11},
{"c":"Nonanoic acid","h":"M1","z":-2.46},{"c":"Nonanoic acid","h":"M2","z":-2.46},{"c":"Nonanoic acid","h":"M3","z":-2.55},{"c":"Nonanoic acid","h":"M4","z":0.0},{"c":"Nonanoic acid","h":"M5","z":0.0},{"c":"Nonanoic acid","h":"M6","z":-0.84},{"c":"Nonanoic acid","h":"M7","z":-0.62},{"c":"Nonanoic acid","h":"M8","z":-1.25},{"c":"Nonanoic acid","h":"M9","z":-0.84},{"c":"Nonanoic acid","h":"M10","z":-1.88},{"c":"Nonanoic acid","h":"F1","z":-1.02},{"c":"Nonanoic acid","h":"F2","z":-1.02},{"c":"Nonanoic acid","h":"F3","z":-0.98},{"c":"Nonanoic acid","h":"F4","z":-0.98},{"c":"Nonanoic acid","h":"F5","z":-1.74},{"c":"Nonanoic acid","h":"F6","z":-2.46},{"c":"Nonanoic acid","h":"F7","z":-0.62},{"c":"Nonanoic acid","h":"F8","z":-2.46},{"c":"Nonanoic acid","h":"F9","z":-1.07},{"c":"Nonanoic acid","h":"F10","z":-0.89}
]},
"data": {"name": "cells"},
"mark": {"type": "rect", "stroke": "#a3a3a3", "strokeWidth": 1},
"encoding": {
  "x": {"field": "h", "type": "ordinal", "sort": null, "scale": {"paddingInner": 0, "paddingOuter": 0},
    "axis": {"title": "Human", "orient": "bottom", "labelAngle": 90, "labelAlign": "left", "labelBaseline": "middle", "labelFontSize": 13, "labelColor": "#000000", "domain": false, "ticks": false, "labelPadding": 4, "titleFontSize": 13, "titleFontWeight": "normal", "titleColor": "#000000", "titlePadding": 1}},
  "y": {"field": "c", "type": "nominal", "sort": null, "scale": {"paddingInner": 0, "paddingOuter": 0},
    "axis": {"title": null, "orient": "right", "domain": false, "ticks": false, "labelFontSize": 13, "labelColor": "#000000", "labelPadding": 4, "labelLimit": 0}},
  "color": {"field": "z", "type": "quantitative",
    "scale": {"scheme": "redblue", "reverse": true, "domain": [-3.05, 2.45]},
    "legend": {"title": null, "orient": "none", "direction": "vertical", "legendX": 631, "legendY": 19, "gradientLength": 118, "gradientThickness": 8, "values": [-3, -2, -1, 0, 1, 2], "labelExpr": "'' + datum.value", "labelFontSize": 13, "labelColor": "#000000", "labelOffset": 4}}
}
}
